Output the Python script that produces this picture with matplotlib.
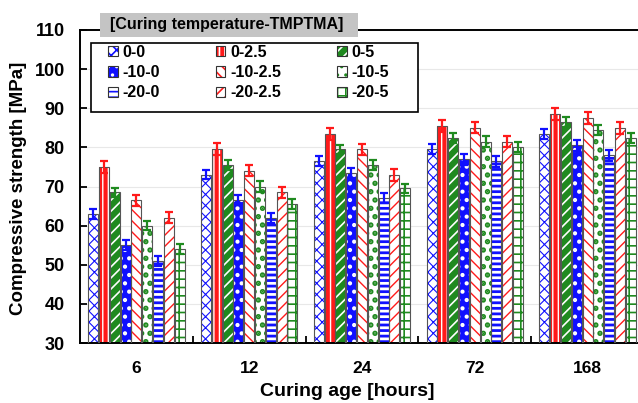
import numpy as np
import matplotlib
matplotlib.use("Agg")
import matplotlib.pyplot as plt
from matplotlib.patches import Patch, Rectangle
from matplotlib.ticker import MultipleLocator, FixedLocator

plt.rcParams['font.family'] = ['Liberation Sans', 'DejaVu Sans']
plt.rcParams['font.weight'] = 'bold'
plt.rcParams['hatch.linewidth'] = 1.2

# curing ages and mix labels (curing temperature - TMPTMA content)
ages = ['6', '12', '24', '72', '168']
mixes = ['0-0', '0-2.5', '0-5', '-10-0', '-10-2.5', '-10-5', '-20-0', '-20-2.5', '-20-5']

# compressive strength [MPa], one list per mix
s_0_0 = [63.0, 73.0, 76.5, 79.5, 83.5]
s_0_25 = [75.0, 79.5, 83.5, 85.5, 88.5]
s_0_5 = [68.5, 75.5, 79.5, 82.5, 86.5]
s_10_0 = [55.0, 66.5, 73.5, 77.0, 80.5]
s_10_25 = [66.5, 74.0, 79.5, 85.0, 87.5]
s_10_5 = [60.0, 70.0, 75.5, 81.5, 84.5]
s_20_0 = [51.0, 62.0, 67.0, 76.5, 78.0]
s_20_25 = [62.0, 68.5, 73.0, 81.5, 85.0]
s_20_5 = [54.0, 65.5, 69.5, 80.0, 82.5]

# standard deviations
e_0_0 = [1.2, 1.2, 1.2, 1.3, 1.3]
e_0_25 = [1.5, 1.5, 1.5, 1.5, 1.6]
e_0_5 = [1.2, 1.2, 1.2, 1.3, 1.3]
e_10_0 = [1.2, 1.3, 1.3, 1.4, 1.4]
e_10_25 = [1.4, 1.4, 1.4, 1.4, 1.5]
e_10_5 = [1.2, 1.3, 1.3, 1.3, 1.3]
e_20_0 = [1.2, 1.3, 1.3, 1.4, 1.4]
e_20_25 = [1.4, 1.5, 1.5, 1.5, 1.5]
e_20_5 = [1.2, 1.2, 1.2, 1.3, 1.3]

strength = [s_0_0, s_0_25, s_0_5, s_10_0, s_10_25, s_10_5, s_20_0, s_20_25, s_20_5]
errors = [e_0_0, e_0_25, e_0_5, e_10_0, e_10_25, e_10_5, e_20_0, e_20_25, e_20_5]

BLUE = '#1010ff'
RED = '#ff1a1a'
GREEN = '#1f8a1f'
# (face colour, hatch colour, hatch, hatch linewidth, errorbar colour)
styles = [
    ('white', BLUE, 'xxx', 0.8, BLUE),
    (RED, 'white', '|||', 1.0, RED),
    (GREEN, 'white', '///', 1.2, GREEN),
    (BLUE, 'white', '..', 1.8, BLUE),
    ('white', RED, '\\\\\\', 1.0, RED),
    ('white', GREEN, '..', 2.6, GREEN),
    ('white', BLUE, '---', 2.0, BLUE),
    ('white', RED, '///', 1.0, RED),
    ('white', GREEN, '++', 1.2, GREEN),
]
EDGE = '#555555'

fig = plt.figure(figsize=(6.38, 4.03), dpi=100)
ax = fig.add_axes([80/638, 1-343/403, 564/638, 313/403])

x = np.arange(len(ages))
step = 0.0957
width = step * 0.94

for j, (name, vals, err) in enumerate(zip(mixes, strength, errors)):
    face, hc, hatch, hlw, ec = styles[j]
    pos = x + (j - 4) * step
    bars = ax.bar(pos, vals, width, color=face, edgecolor=hc, hatch=hatch,
                  linewidth=0, zorder=2)
    for b in bars:
        if hasattr(b, 'set_hatch_linewidth'):
            b.set_hatch_linewidth(hlw)
    ax.bar(pos, vals, width, fill=False, edgecolor=EDGE, linewidth=0.8, zorder=3)
    ax.errorbar(pos, vals, yerr=err, fmt='none', ecolor=ec, elinewidth=1.6,
                capsize=3.2, capthick=1.6, zorder=4)

ax.set_xlim(-0.5, 4.5)
ax.set_ylim(30, 110)
ax.yaxis.set_major_locator(MultipleLocator(10))
ax.set_xticks(x)
ax.set_xticklabels(ages)
ax.xaxis.set_minor_locator(FixedLocator([0.5, 1.5, 2.5, 3.5]))
ax.tick_params(axis='x', which='major', length=0, pad=13, labelsize=12.5)
ax.tick_params(axis='x', which='minor', direction='in', length=5, width=1.3)
ax.tick_params(axis='y', direction='in', length=5, width=1.3, pad=11, labelsize=13)
for lab in ax.get_xticklabels() + ax.get_yticklabels():
    lab.set_fontweight('bold')
for sp in ax.spines.values():
    sp.set_linewidth(1.4)
ax.yaxis.grid(True, color='#e8e8e8', linewidth=0.8, zorder=0)
ax.set_axisbelow(True)

fig.text(19/638, 1-188/403, 'Compressive strength [MPa]', rotation=90,
         ha='center', va='center', fontsize=13.5, fontweight='bold')
fig.text(347/638, 1-392/403, 'Curing age [hours]', ha='center', va='center',
         fontsize=14, fontweight='bold')

# legend title bar
fig.patches.append(Rectangle((100/638, 1-37/403), 258/638, 24/403,
                             transform=fig.transFigure, facecolor='#c4c4c4',
                             edgecolor='none', zorder=5))
fig.text(110/638, 1-25/403, '[Curing temperature-TMPTMA]', ha='left',
         va='center', fontsize=11.5, fontweight='bold', zorder=6)

# legend box
fig.patches.append(Rectangle((91/638, 1-112/403), 327/638, 69/403,
                             transform=fig.transFigure, facecolor='white',
                             edgecolor='black', linewidth=1.2, zorder=5))
handles = []
for face, hc, hatch, hlw, ec in styles:
    p1 = Patch(facecolor=face, edgecolor=hc, hatch=hatch, linewidth=0)
    p2 = Patch(fill=False, edgecolor='#333333', linewidth=0.8)
    handles.append((p1, p2))
# legend fills column by column; reorder so the rows read 0 / -10 / -20
order = [0, 3, 6, 1, 4, 7, 2, 5, 8]
leg = fig.legend([handles[i] for i in order], [mixes[i] for i in order],
                 ncol=3, loc='upper left',
                 bbox_to_anchor=(108/638, 1-45/403), bbox_transform=fig.transFigure,
                 frameon=False, borderpad=0, borderaxespad=0,
                 handlelength=0.6, handleheight=0.6, handletextpad=0.3,
                 labelspacing=0.32, columnspacing=3.5,
                 prop={'weight': 'bold', 'size': 11.5})
leg.set_zorder(7)

fig.savefig('out.png', dpi=100)
